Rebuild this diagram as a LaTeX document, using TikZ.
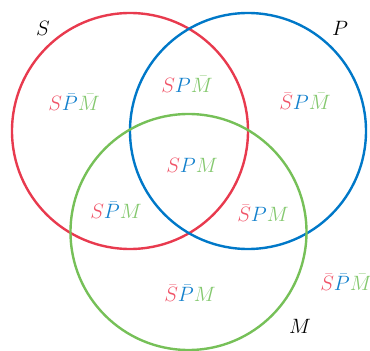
\documentclass[tikz,border=0pt]{standalone}
\usepackage{amsmath, amssymb}
\usepackage{tikz}

\definecolor{setred}{RGB}{232,58,78}
\definecolor{setblue}{RGB}{0,120,200}
\definecolor{setgreen}{RGB}{118,192,88}
\definecolor{lblred}{RGB}{240,84,104}
\definecolor{lblblue}{RGB}{18,128,204}
\definecolor{lblgreen}{RGB}{132,200,110}

\newcommand{\rS}{\textcolor{lblred}{S}}
\newcommand{\rSn}{\textcolor{lblred}{\bar{S}}}
\newcommand{\bP}{\textcolor{lblblue}{P}}
\newcommand{\bPn}{\textcolor{lblblue}{\bar{P}}}
\newcommand{\gM}{\textcolor{lblgreen}{M}}
\newcommand{\gMn}{\textcolor{lblgreen}{\bar{M}}}

\begin{document}
\begin{tikzpicture}[
    x=1pt, y=-1pt,
    line width=2.4pt,
    setline/.style={line width=2.4pt},
    region/.style={inner sep=0pt, font=\fontsize{20}{24}\selectfont},
    setname/.style={inner sep=0pt, font=\fontsize{20}{24}\selectfont}
]
    \useasboundingbox (0,0) rectangle (370,351);

    % the three sets
    \draw[setline, setred] (130,131) circle (118);
    \draw[setline, setblue] (248,131) circle (118);
    \draw[setline, setgreen] (188.5,232) circle (118);

    % set names
    \node[setname] (nameS) at (43,28) {$S$};
    \node[setname] (nameP) at (340,28) {$P$};
    \node[setname] (nameM) at (300,326) {$M$};

    % regions
    \node[region] (r1) at (74,102) {$\rS\bPn\gMn$};
    \node[region] (r2) at (187,84) {$\rS\bP\gMn$};
    \node[region] (r3) at (305,101) {$\rSn\bP\gMn$};
    \node[region] (r4) at (192,165) {$\rS\bP\gM$};
    \node[region] (r5) at (116,210) {$\rS\bPn\gM$};
    \node[region] (r6) at (263,213) {$\rSn\bP\gM$};
    \node[region] (r7) at (190,293) {$\rSn\bPn\gM$};
    \node[region] (r8) at (346,282) {$\rSn\bPn\gMn$};
\end{tikzpicture}
\end{document}
